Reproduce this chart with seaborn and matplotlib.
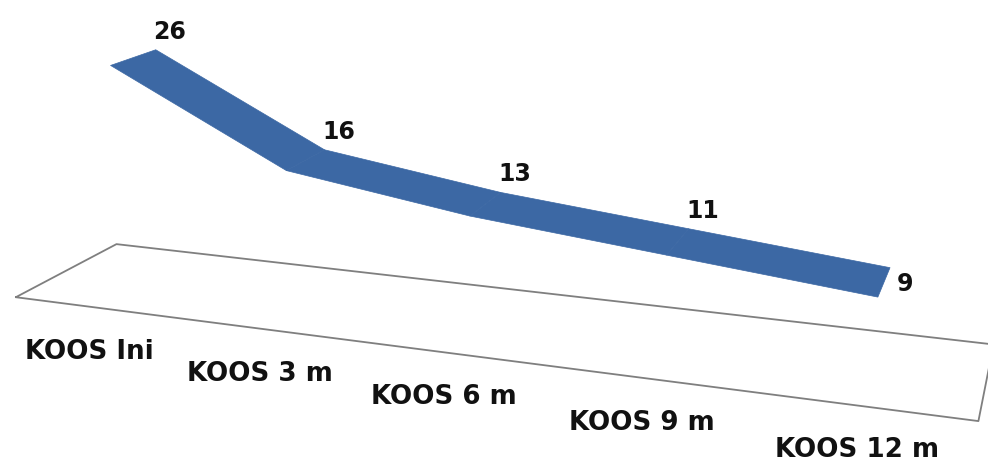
import numpy as np
import matplotlib
matplotlib.use("Agg")
import matplotlib.pyplot as plt
import matplotlib.transforms as mtransforms
import seaborn as sns
from mpl_toolkits.mplot3d.art3d import Poly3DCollection

categories = ["KOOS Ini", "KOOS 3 m", "KOOS 6 m", "KOOS 9 m", "KOOS 12 m"]
values = [26, 16, 13, 11, 9]

sns.set_theme(style="white")
plt.rcParams["font.family"] = ["DejaVu Sans"]

ribbon_color = "#3c68a4"
floor_z = 0
ribbon_depth = (0.0, 1.0)
floor_depth = (-0.6, 1.6)

fig = plt.figure(figsize=(9.88, 4.63), dpi=100)
# the 3d axes is forced square, so make it wide enough for the whole figure
ax = fig.add_axes([-0.022, -0.5265, 1, 2.134], projection="3d")
ax.set_proj_type("persp", focal_length=0.32)
ax.view_init(elev=15.8, azim=-70.4)
ax.set_xlim(-0.5, len(categories) - 0.5)
ax.set_ylim(*floor_depth)
ax.set_zlim(floor_z, 27)
ax.set_box_aspect((1080, 220, 280), zoom=1.02)
ax.set_axis_off()

# floor outline
x0, x1 = -0.5, len(categories) - 0.5
y0, y1 = floor_depth
ax.plot([x0, x1, x1, x0, x0], [y0, y0, y1, y1, y0], [floor_z] * 5,
        color="#7f7f7f", lw=1.3, clip_on=False)

# ribbon, one quad per segment
xs = np.arange(len(values))
quads = []
for i in range(len(values) - 1):
    quads.append([(xs[i], ribbon_depth[0], values[i]),
                  (xs[i + 1], ribbon_depth[0], values[i + 1]),
                  (xs[i + 1], ribbon_depth[1], values[i + 1]),
                  (xs[i], ribbon_depth[1], values[i])])
poly = Poly3DCollection(quads, facecolor=ribbon_color, edgecolor=ribbon_color,
                        linewidth=0.5)
poly.set_clip_on(False)
ax.add_collection3d(poly)


def shifted(dx, dy):
    return mtransforms.offset_copy(ax.transData, fig=fig, x=dx, y=dy,
                                   units="dots")


# value labels, above the back edge (last one beside the end of the ribbon)
for i, v in enumerate(values):
    if i == len(values) - 1:
        ax.text(xs[i], 0.5, v, str(v), ha="center", va="center",
                fontsize=17, fontweight="bold", color="#111111",
                transform=shifted(21, -2), clip_on=False)
    else:
        ax.text(xs[i], ribbon_depth[1], v, str(v), ha="center",
                va="center", fontsize=17, fontweight="bold", color="#111111",
                transform=shifted(14, 18), clip_on=False)

# category labels under the front edge of the floor
for i, c in enumerate(categories):
    ax.text(xs[i], floor_depth[0], floor_z, c, ha="center", va="center",
            fontsize=18.8, fontweight="bold", color="#111111",
            transform=shifted(-7, -44), clip_on=False)

fig.savefig("out.png", dpi=100)
